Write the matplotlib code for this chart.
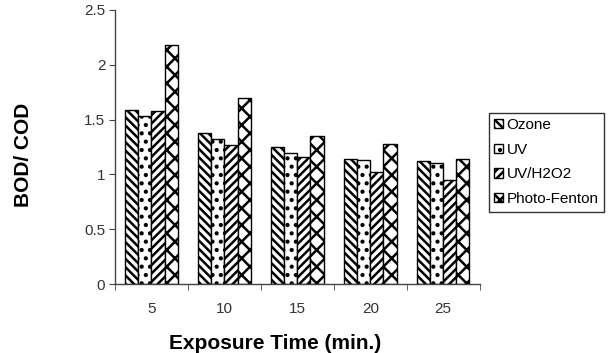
import matplotlib
matplotlib.use("Agg")
import matplotlib.pyplot as plt
import numpy as np

categories = ["5", "10", "15", "20", "25"]
series_names = ["Ozone", "UV", "UV/H2O2", "Photo-Fenton"]
ozone = [1.59, 1.38, 1.25, 1.14, 1.12]
uv = [1.53, 1.32, 1.20, 1.13, 1.10]
uv_h2o2 = [1.58, 1.27, 1.16, 1.02, 0.95]
photo_fenton = [2.18, 1.70, 1.35, 1.28, 1.14]
yticks = [0, 0.5, 1, 1.5, 2, 2.5]
ytick_labels = ["0", "0.5", "1", "1.5", "2", "2.5"]

plt.rcParams['font.family'] = ['Liberation Sans', 'DejaVu Sans']
plt.rcParams['hatch.linewidth'] = 1.8

fig = plt.figure(figsize=(6.15, 3.53), dpi=100)
ax = fig.add_axes([0.187, 0.195, 0.593, 0.777])

x = np.arange(len(categories))
w = 0.18
hatches = ["\\\\\\\\", "..", "////", "xx"]
data = [ozone, uv, uv_h2o2, photo_fenton]
for i, (vals, name, h) in enumerate(zip(data, series_names, hatches)):
    ax.bar(x + (i - 1.5) * w, vals, w, facecolor="white", edgecolor="black",
           hatch=h, linewidth=1.0, label=name)

ax.set_xlim(-0.5, len(categories) - 0.5)
ax.set_ylim(0, 2.5)
ax.set_yticks(yticks)
ax.set_yticklabels(ytick_labels, fontsize=11, color="#333333")
ax.set_xticks(x)
ax.set_xticklabels(categories, fontsize=11, color="#333333")
ax.tick_params(axis='x', length=0, pad=13)
ax.set_xticks(np.arange(len(categories) + 1) - 0.5, minor=True)
ax.tick_params(axis='x', which='minor', length=4, direction='out', color="#444444")
ax.tick_params(axis='y', length=4, direction='out', color="#444444", pad=3)

for s in ["top", "right"]:
    ax.spines[s].set_visible(False)
for s in ["left", "bottom"]:
    ax.spines[s].set_color("#444444")
    ax.spines[s].set_linewidth(1.0)

ax.set_ylabel("BOD/ COD", fontsize=15, fontweight="bold")
ax.yaxis.set_label_coords(-0.252, 0.47)
ax.set_xlabel("Exposure Time (min.)", fontsize=15, fontweight="bold")
ax.xaxis.set_label_coords(0.438, -0.215)
ax.xaxis.label.set_verticalalignment("center")
ax.yaxis.label.set_verticalalignment("center")

leg = ax.legend(loc="upper left", bbox_to_anchor=(1.025, 0.625), fontsize=11,
                frameon=True, fancybox=False, edgecolor="black",
                handlelength=0.55, handleheight=0.55, handletextpad=0.25,
                borderpad=0.35, labelspacing=0.7, borderaxespad=0)
leg.get_frame().set_linewidth(1.0)

fig.savefig("out.png", dpi=100)
